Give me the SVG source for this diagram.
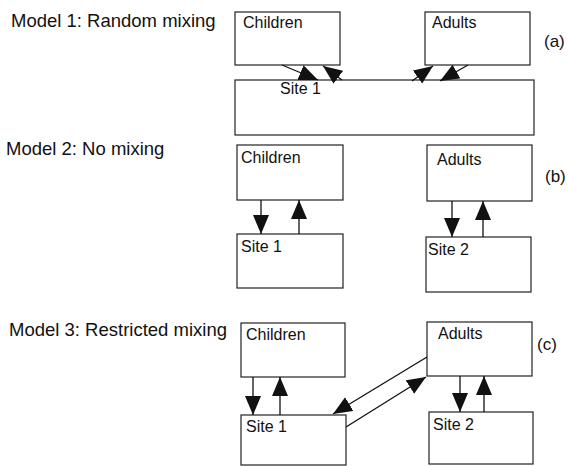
<svg xmlns="http://www.w3.org/2000/svg" width="568" height="466" viewBox="0 0 568 466">
  <style>
    .box { fill: #fff; stroke: #222; stroke-width: 1.2; }
    .lbl { font-family: "Liberation Sans", Arial, sans-serif; font-size: 16px; fill: #111; }
    .title { font-family: "Liberation Sans", Arial, sans-serif; font-size: 18.5px; fill: #111; }
    .tag { font-family: "Liberation Sans", Arial, sans-serif; font-size: 17px; fill: #111; }
    .link { stroke: #111; stroke-width: 1.3; fill: none; marker-end: url(#head); }
  </style>
  <defs>
    <marker id="head" markerUnits="userSpaceOnUse" markerWidth="20" markerHeight="17" refX="19" refY="8" orient="auto">
      <path d="M0,0 L19,8 L0,16 z" fill="#111"/>
    </marker>
  </defs>
  <rect width="568" height="466" fill="#fff"/>

  <!-- model titles -->
  <text class="title" x="11" y="27">Model 1: Random mixing</text>
  <text class="title" x="6" y="155">Model 2: No mixing</text>
  <text class="title" x="9" y="336">Model 3: Restricted mixing</text>
  <text class="tag" x="544" y="47">(a)</text>
  <text class="tag" x="545" y="182">(b)</text>
  <text class="tag" x="537" y="350">(c)</text>

  <!-- (a) random mixing -->
  <g id="a-children"><rect class="box" x="235" y="12" width="105" height="53"/><text class="lbl" x="243" y="28">Children</text></g>
  <g id="a-adults"><rect class="box" x="425" y="12" width="105" height="53"/><text class="lbl" x="432" y="28">Adults</text></g>
  <g id="a-site1"><rect class="box" x="235" y="80" width="299" height="55"/><text class="lbl" x="280" y="94">Site 1</text></g>

  <!-- (b) no mixing -->
  <g id="b-children"><rect class="box" x="237" y="145" width="106" height="55"/><text class="lbl" x="241" y="163">Children</text></g>
  <g id="b-site1"><rect class="box" x="237" y="234" width="106" height="54"/><text class="lbl" x="241" y="252">Site 1</text></g>
  <g id="b-adults"><rect class="box" x="427" y="145" width="105" height="56"/><text class="lbl" x="437" y="165">Adults</text></g>
  <g id="b-site2"><rect class="box" x="426" y="237" width="105" height="55"/><text class="lbl" x="428" y="255">Site 2</text></g>

  <!-- (c) restricted mixing -->
  <g id="c-children"><rect class="box" x="241" y="323" width="104" height="54"/><text class="lbl" x="246" y="340">Children</text></g>
  <g id="c-adults"><rect class="box" x="427" y="322" width="105" height="54"/><text class="lbl" x="438" y="339">Adults</text></g>
  <g id="c-site1"><rect class="box" x="241" y="415" width="105" height="50"/><text class="lbl" x="246" y="432">Site 1</text></g>
  <g id="c-site2"><rect class="box" x="429" y="412" width="104" height="52"/><text class="lbl" x="433" y="430">Site 2</text></g>

  <g id="connectors">
    <!-- (a) -->
    <line class="link" x1="282" y1="65" x2="318" y2="80"/>
    <line class="link" x1="342" y1="80" x2="323" y2="66"/>
    <line class="link" x1="412" y1="81" x2="433" y2="66"/>
    <line class="link" x1="468" y1="65" x2="440" y2="81"/>
    <!-- (b) -->
    <line class="link" x1="261" y1="200" x2="261" y2="234"/>
    <line class="link" x1="299" y1="234" x2="299" y2="200"/>
    <line class="link" x1="452" y1="201" x2="452" y2="237"/>
    <line class="link" x1="483" y1="237" x2="483" y2="201"/>
    <!-- (c) -->
    <line class="link" x1="253" y1="377" x2="253" y2="415"/>
    <line class="link" x1="280" y1="415" x2="280" y2="377"/>
    <line class="link" x1="460" y1="376" x2="460" y2="412"/>
    <line class="link" x1="484" y1="412" x2="484" y2="376"/>
    <line class="link" x1="427" y1="357" x2="333" y2="414"/>
    <line class="link" x1="346" y1="427" x2="426" y2="377"/>
  </g>
</svg>
